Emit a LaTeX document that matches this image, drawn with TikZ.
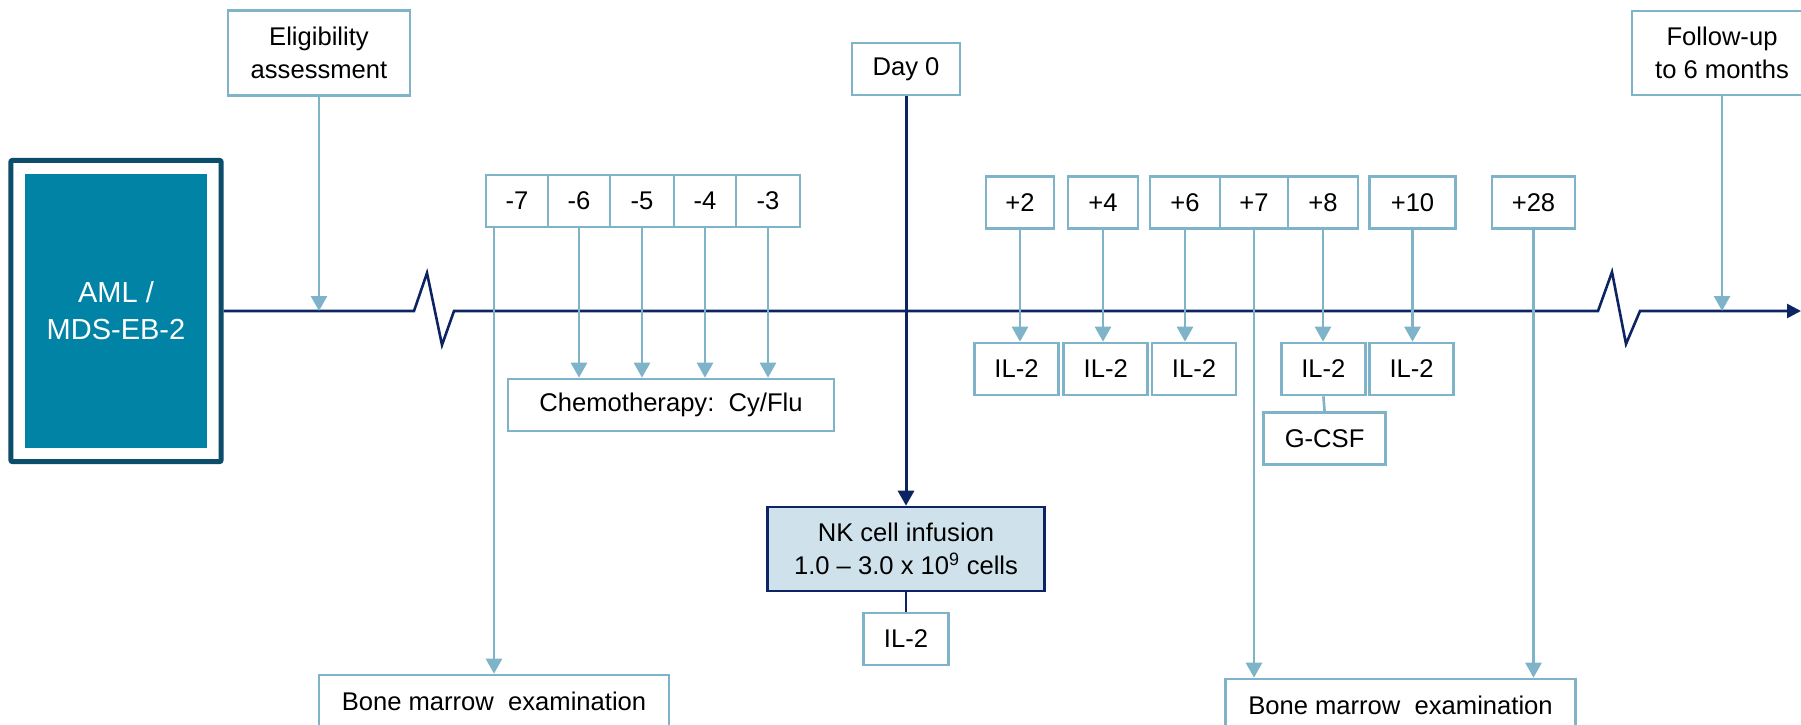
\documentclass[tikz,border=0pt]{standalone}
\usepackage{fontspec}
\setmainfont{Liberation Sans}
\usetikzlibrary{arrows.meta,fit}

\definecolor{lineblue}{HTML}{7FB3C9}
\definecolor{navy}{HTML}{0C2461}
\definecolor{amlteal}{HTML}{0083A5}
\definecolor{amlframe}{HTML}{0B4D6A}
\definecolor{nkfill}{HTML}{CFE2EB}

\begin{document}
\begin{tikzpicture}[x=1pt,y=-1pt,
  box/.style={draw=lineblue, line width=2.6pt, fill=white, inner sep=0pt, minimum height=52pt, align=center, font=\fontsize{25.6}{32.5}\selectfont},
  arr/.style={draw=lineblue, line width=2.7pt, -{Triangle[length=15pt,width=16pt]}},
  navyarr/.style={draw=navy, line width=3pt, -{Triangle[length=15pt,width=16pt]}}]

\useasboundingbox (0,0) rectangle (1801,725);
\clip (0,0) rectangle (1801,725);

\node[fill=amlteal, minimum width=182pt, minimum height=274pt, text=white, align=center, font=\fontsize{29}{37}\selectfont] (aml) at (116,311) {AML /\\MDS-EB-2};
\node[draw=amlframe, line width=5pt, rounded corners=2pt, fit=(aml), inner xsep=14pt, inner ysep=13.5pt] (frame) {};

\coordinate (tl) at (0,311);
\coordinate (tlend) at (1801,311);
\draw[draw=navy, line width=2.6pt, -{Triangle[length=14pt,width=14pt]}] (frame.east) -- (414,311) -- (427,273) -- (442,345) -- (454,311) -- (1598,311) -- (1612,272) -- (1626,344) -- (1640,311) -- (tlend);

\node[box, minimum width=182pt, minimum height=85pt] (elig) at (319,53) {Eligibility\\assessment};
\draw[arr] (elig.south) -- (elig.south |- tl);

\node[box, minimum width=180pt, minimum height=84pt] (fu) at (1722,53) {Follow-up\\to 6 months};
\draw[arr] (fu.south) -- (fu.south |- tl);

\foreach \d/\x/\w in {7/517/62, 6/579/62, 5/642/64, 4/705/62, 3/768/64} {
        \node[box, minimum width=\w pt] (m\d) at (\x,201) {-\d};
 }

\node[box, minimum width=326pt] (chemo) at (671,405) {Chemotherapy:\ \ Cy/Flu};
\foreach \d in {6,5,4,3} {
        \draw[arr] (m\d.south) -- (m\d.south |- chemo.north);
 }

\node[box, minimum width=350pt] (bm1) at (494,701) {Bone marrow\ \ examination};
\draw[arr] (m7.south -| bm1.north) -- (bm1.north);

\node[box, minimum width=108pt] (day0) at (906,69) {Day 0};
\node[box, draw=navy, fill=nkfill, minimum width=277pt, minimum height=84pt] (nk) at (906,549) {NK cell infusion\\1.0 -- 3.0 x 10\textsuperscript{9} cells};
\draw[navyarr] (day0.south) -- (nk.north);
\node[box, minimum width=85pt] (il0) at (906,639) {IL-2};
\draw[navy, line width=2.6pt] (nk.south) -- (il0.north);

\foreach \d/\x/\w in {2/1020/68, 4/1103/70, 6/1185/70, 7/1254/68, 8/1323/70, 10/1412.5/86, 28/1533.5/83} {
        \node[box, minimum width=\w pt] (p\d) at (\x,202.5) {+\d};
 }

\foreach \d/\x in {2/1016.5, 4/1105.7, 6/1194, 8/1323.4, 10/1411.6} {
        \node[box, minimum width=84pt] (i\d) at (\x,369) {IL-2};
        \draw[arr] (p\d.south) -- (p\d.south |- i\d.north);
 }

\node[box, minimum width=122pt] (gcsf) at (1324.6,438.6) {G-CSF};
\draw[lineblue, line width=2.6pt] (i8.south) -- (gcsf.north);

\node[box, minimum width=350pt] (bm2) at (1400.5,705) {Bone marrow\ \ examination};
\draw[arr] (p7.south) -- (p7.south |- bm2.north);
\draw[arr] (p28.south) -- (p28.south |- bm2.north);
\end{tikzpicture}
\end{document}
